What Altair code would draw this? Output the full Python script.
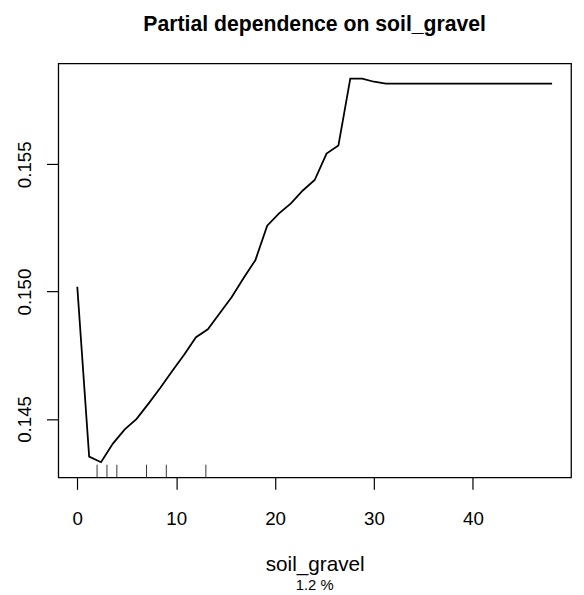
import altair as alt
import pandas as pd

# partial dependence grid (soil_gravel) and predicted values
grid_x = [round(1.2 * i, 1) for i in range(41)]
pd_y = [0.15019, 0.14352, 0.14330, 0.14403, 0.14459, 0.14500, 0.14560, 0.14622,
        0.14688, 0.14752, 0.14821, 0.14852, 0.14915, 0.14978, 0.15052, 0.15123,
        0.15259, 0.15307, 0.15346, 0.15397, 0.15438, 0.15542, 0.15574, 0.15836,
        0.15836, 0.15824, 0.15817, 0.15817, 0.15817, 0.15817, 0.15817, 0.15817,
        0.15817, 0.15817, 0.15817, 0.15817, 0.15817, 0.15817, 0.15817, 0.15817,
        0.15817]
rug_x = [2, 3, 4, 7, 9, 13]
x_ticks = [0, 10, 20, 30, 40]
y_ticks = [0.145, 0.150, 0.155]
title_text = "Partial dependence on soil_gravel"
x_title = "soil_gravel"
sub_text = "1.2 %"

FONT = "Liberation Sans"
W, H = 520, 420

xmin, xmax = min(grid_x), max(grid_x)
ymin, ymax = min(pd_y), max(pd_y)
xpad = 0.04 * (xmax - xmin)
ypad = 0.04 * (ymax - ymin)
xdom = [xmin - xpad, xmax + xpad]
ydom = [ymin - ypad, ymax + ypad]

line_df = pd.DataFrame({"x": grid_x, "y": pd_y})
rug_df = pd.DataFrame({"x": rug_x})

xscale = alt.Scale(domain=xdom, nice=False, zero=False)
yscale = alt.Scale(domain=ydom, nice=False, zero=False)

line = alt.Chart(line_df).mark_line(color="black", strokeWidth=1.8).encode(
    x=alt.X("x:Q", scale=xscale,
            axis=alt.Axis(values=x_ticks, title=x_title, format="d")),
    y=alt.Y("y:Q", scale=yscale,
            axis=alt.Axis(values=y_ticks, title=None, format=".3f")),
)

rug = alt.Chart(rug_df).mark_rule(color="#333333", strokeWidth=1).encode(
    x=alt.X("x:Q", scale=xscale),
    y=alt.value(H),
    y2=alt.value(H - 13),
)

title = alt.Chart(pd.DataFrame({"t": [title_text]})).mark_text(
    font=FONT, fontSize=21.5, fontWeight="bold", color="black",
    align="center", baseline="alphabetic"
).encode(x=alt.value(W / 2), y=alt.value(-33), text="t:N")

sub = alt.Chart(pd.DataFrame({"t": [sub_text]})).mark_text(
    font=FONT, fontSize=15, color="black",
    align="center", baseline="alphabetic"
).encode(x=alt.value(W / 2), y=alt.value(534), text="t:N")

chart = alt.layer(line, rug, title, sub).properties(
    width=W, height=H,
    background="white",
    autosize=alt.AutoSizeParams(type="none"),
    padding={"left": 51, "top": 52, "right": 5, "bottom": 115},
).configure_view(
    stroke="black", strokeWidth=1.3
).configure_axis(
    grid=False, domain=False, ticks=True, tickColor="black", tickWidth=1.2,
    tickSize=12, labelColor="black", labelFont=FONT, labelFontSize=19,
    titleFont=FONT, titleColor="black", titleFontWeight="normal",
    titleFontSize=21,
).configure_axisX(
    labelPadding=21, titlePadding=25,
).configure_axisY(
    labelAngle=270, labelAlign="center", labelBaseline="bottom", labelPadding=12,
)

chart.save("out.html", embed_options={"renderer": "svg", "actions": False})
